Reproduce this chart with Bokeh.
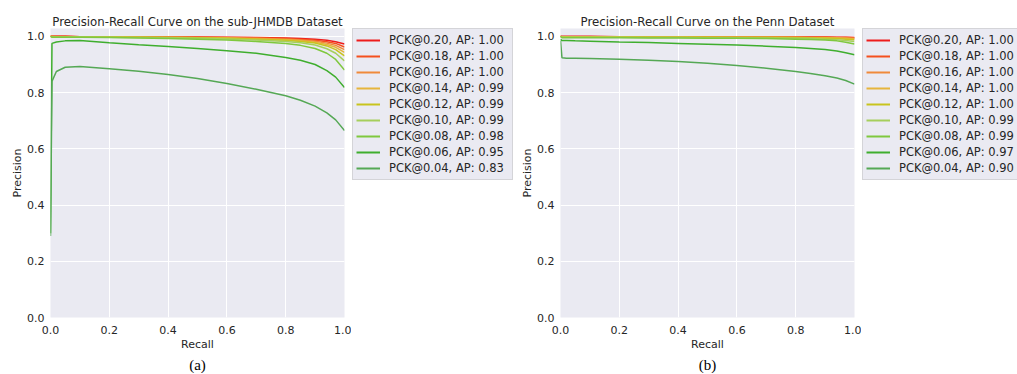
from bokeh.plotting import figure
from bokeh.layouts import row
from bokeh.models import Legend, LegendItem, Title, FixedTicker, Range1d
from bokeh.embed import file_html
from bokeh.resources import INLINE

# ---------------- data ----------------
recall = [0.0, 0.005, 0.02, 0.05, 0.1, 0.2, 0.3, 0.4, 0.5, 0.6, 0.7, 0.8, 0.85, 0.9, 0.94, 0.97, 1.0]

pck_names = ["PCK@0.20", "PCK@0.18", "PCK@0.16", "PCK@0.14", "PCK@0.12",
             "PCK@0.10", "PCK@0.08", "PCK@0.06", "PCK@0.04"]
ap_jhmdb = ["1.00", "1.00", "1.00", "0.99", "0.99", "0.99", "0.98", "0.95", "0.83"]
ap_penn = ["1.00", "1.00", "1.00", "1.00", "1.00", "0.99", "0.99", "0.97", "0.90"]

jh_020 = [1.0, 1.0, 1.0, 1.0, 0.999, 0.999, 0.999, 0.998, 0.998, 0.997, 0.996, 0.994, 0.992, 0.99, 0.986, 0.981, 0.973]
jh_018 = [1.0, 1.0, 1.0, 1.0, 0.999, 0.999, 0.998, 0.998, 0.997, 0.996, 0.995, 0.992, 0.99, 0.986, 0.981, 0.975, 0.962]
jh_016 = [1.0, 1.0, 0.999, 0.999, 0.999, 0.998, 0.998, 0.997, 0.996, 0.995, 0.993, 0.99, 0.987, 0.983, 0.976, 0.968, 0.953]
jh_014 = [1.0, 0.999, 0.999, 0.999, 0.999, 0.998, 0.997, 0.996, 0.995, 0.994, 0.991, 0.988, 0.984, 0.979, 0.971, 0.961, 0.943]
jh_012 = [1.0, 0.999, 0.999, 0.999, 0.998, 0.998, 0.997, 0.996, 0.995, 0.993, 0.99, 0.986, 0.982, 0.976, 0.966, 0.953, 0.931]
jh_010 = [1.0, 0.998, 0.998, 0.998, 0.998, 0.997, 0.996, 0.995, 0.993, 0.991, 0.987, 0.982, 0.977, 0.969, 0.956, 0.94, 0.913]
jh_008 = [1.0, 0.997, 0.997, 0.997, 0.997, 0.996, 0.994, 0.992, 0.99, 0.987, 0.982, 0.975, 0.968, 0.957, 0.94, 0.918, 0.88]
jh_006 = [0.30, 0.975, 0.98, 0.984, 0.985, 0.977, 0.97, 0.964, 0.957, 0.949, 0.94, 0.925, 0.915, 0.9, 0.878, 0.855, 0.818]
jh_004 = [0.29, 0.84, 0.875, 0.89, 0.893, 0.885, 0.876, 0.864, 0.85, 0.832, 0.812, 0.789, 0.773, 0.752, 0.728, 0.703, 0.665]

pn_020 = [1.0, 1.0, 1.0, 1.0, 1.0, 0.999, 0.999, 0.999, 0.999, 0.999, 0.999, 0.998, 0.998, 0.998, 0.997, 0.997, 0.996]
pn_018 = [1.0, 0.999, 0.999, 0.999, 0.999, 0.999, 0.999, 0.999, 0.998, 0.998, 0.998, 0.998, 0.997, 0.997, 0.996, 0.996, 0.995]
pn_016 = [1.0, 0.999, 0.999, 0.999, 0.999, 0.998, 0.998, 0.998, 0.998, 0.998, 0.997, 0.997, 0.996, 0.996, 0.995, 0.994, 0.993]
pn_014 = [1.0, 0.999, 0.999, 0.998, 0.998, 0.998, 0.998, 0.998, 0.997, 0.997, 0.997, 0.996, 0.995, 0.995, 0.994, 0.993, 0.991]
pn_012 = [1.0, 0.998, 0.998, 0.998, 0.998, 0.998, 0.997, 0.997, 0.997, 0.996, 0.996, 0.995, 0.994, 0.993, 0.992, 0.99, 0.988]
pn_010 = [1.0, 0.997, 0.997, 0.997, 0.997, 0.997, 0.996, 0.996, 0.995, 0.995, 0.994, 0.993, 0.992, 0.99, 0.988, 0.985, 0.982]
pn_008 = [0.999, 0.995, 0.995, 0.995, 0.995, 0.995, 0.994, 0.994, 0.993, 0.993, 0.992, 0.99, 0.989, 0.987, 0.984, 0.979, 0.973]
pn_006 = [0.99, 0.985, 0.985, 0.984, 0.983, 0.98, 0.978, 0.975, 0.972, 0.969, 0.965, 0.96, 0.957, 0.953, 0.948, 0.942, 0.935]
pn_004 = [0.985, 0.924, 0.922, 0.922, 0.921, 0.919, 0.915, 0.911, 0.904, 0.896, 0.887, 0.875, 0.868, 0.86, 0.852, 0.843, 0.83]

jhmdb_series = [jh_020, jh_018, jh_016, jh_014, jh_012, jh_010, jh_008, jh_006, jh_004]
penn_series = [pn_020, pn_018, pn_016, pn_014, pn_012, pn_010, pn_008, pn_006, pn_004]

colors = ["#ee1c1c", "#f5501e", "#f08a3a", "#e6b53c", "#c8c41e",
          "#a6cf5c", "#7fc83e", "#3fae2e", "#55a855"]

tick_vals = [0.0, 0.2, 0.4, 0.6, 0.8, 1.0]
tick_labels = ["0.0", "0.2", "0.4", "0.6", "0.8", "1.0"]

FONT = "DejaVu Sans"
TXT = "#262626"
TOP = 23
BOTTOM = 56
H = TOP + 294 + BOTTOM


def make_panel(title, caption, series, border_left):
    p = figure(width=border_left + 294 + 7, height=H,
               output_backend="svg", toolbar_location=None,
               x_range=Range1d(0, 1), y_range=Range1d(0, 1.028),
               min_border_left=border_left, min_border_right=7,
               min_border_top=TOP, min_border_bottom=BOTTOM)
    p.title.text = title
    p.title.text_font = FONT
    p.title.text_font_size = "11.75px"
    p.title.text_font_style = "normal"
    p.title.text_color = TXT
    p.title.align = "center"
    p.title.standoff = 0
    p.background_fill_color = "#EAEAF2"
    p.border_fill_color = "white"
    p.outline_line_color = None
    for ax in (p.xaxis[0], p.yaxis[0]):
        ax.ticker = FixedTicker(ticks=tick_vals)
        ax.major_label_overrides = {v: s for v, s in zip(tick_vals, tick_labels)}
        ax.axis_line_color = None
        ax.major_tick_line_color = None
        ax.minor_tick_line_color = None
        ax.major_tick_out = 0
        ax.major_tick_in = 0
        ax.major_label_text_font = FONT
        ax.major_label_text_font_size = "11px"
        ax.major_label_text_color = TXT
        ax.axis_label_text_font = FONT
        ax.axis_label_text_font_size = "11px"
        ax.axis_label_text_font_style = "normal"
        ax.axis_label_text_color = TXT
    p.xaxis.axis_label = "Recall"
    p.yaxis.axis_label = "Precision"
    p.xaxis.major_label_standoff = 8
    p.yaxis.major_label_standoff = 6
    p.xaxis.axis_label_standoff = 1
    p.yaxis.axis_label_standoff = 0
    p.grid.grid_line_color = "white"
    p.grid.grid_line_width = 1
    p.grid.ticker = FixedTicker(ticks=tick_vals)

    for ys, c in zip(series, colors):
        p.line(recall, ys, line_color=c, line_width=1.5)

    cap = Title(text=caption, align="center", text_font="Liberation Serif",
                text_font_size="15px", text_font_style="normal", text_color="black",
                standoff=2)
    p.add_layout(cap, "below")
    return p


def make_legend(aps, series, width):
    # legend-only figure: the curves are drawn outside its visible x range
    lf = figure(width=width, height=H, output_backend="svg", toolbar_location=None,
                x_range=Range1d(2, 3), y_range=Range1d(0, 1),
                x_axis_location=None, y_axis_location=None,
                min_border_left=1, min_border_right=0, min_border_top=28, min_border_bottom=0)
    lf.grid.visible = False
    lf.outline_line_color = None
    lf.background_fill_color = "white"
    lf.border_fill_color = "white"
    items = []
    for name, ap, ys, c in zip(pck_names, aps, series, colors):
        r = lf.line(recall, ys, line_color=c, line_width=2)
        items.append(LegendItem(label=f"{name}, AP: {ap}", renderers=[r]))
    leg = Legend(items=items, location="top_left")
    leg.label_text_font = FONT
    leg.label_text_font_size = "11.5px"
    leg.label_text_color = TXT
    leg.glyph_width = 24
    leg.glyph_height = 16
    leg.label_height = 16
    leg.label_width = 120
    leg.label_standoff = 9
    leg.spacing = 0
    leg.padding = 3
    leg.margin = 0
    leg.background_fill_color = "#EAEAF2"
    leg.background_fill_alpha = 1.0
    leg.border_line_color = "#bdbdbd"
    leg.border_line_width = 1
    lf.add_layout(leg, "center")
    return lf


p1 = make_panel("Precision-Recall Curve on the sub-JHMDB Dataset", "(a)", jhmdb_series, 50)
l1 = make_legend(ap_jhmdb, jhmdb_series, 167)
p2 = make_panel("Precision-Recall Curve on the Penn Dataset", "(b)", penn_series, 42)
l2 = make_legend(ap_penn, penn_series, 156)

layout = row(p1, l1, p2, l2)
open("out.html", "w").write(file_html(layout, INLINE))
